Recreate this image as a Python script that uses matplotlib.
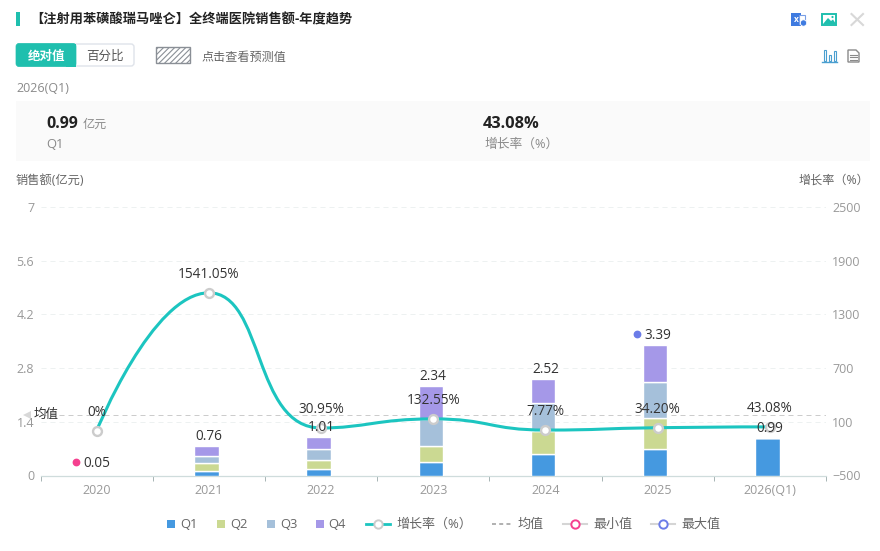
import numpy as np
import matplotlib
matplotlib.use("Agg")
import matplotlib.pyplot as plt
from matplotlib.patches import Rectangle, FancyBboxPatch, PathPatch, Polygon
from matplotlib.path import Path
from matplotlib.transforms import ScaledTranslation

plt.rcParams['font.family'] = ['Open Sans', 'Noto Sans CJK SC', 'DejaVu Sans']
plt.rcParams['hatch.linewidth'] = 0.8

categories = ['2020', '2021', '2022', '2023', '2024', '2025', '2026(Q1)']
q1 = [np.nan, 0.13, 0.18, 0.35, 0.55, 0.68, 0.99]
q2 = [np.nan, 0.19, 0.22, 0.43, 0.60, 0.82, np.nan]
q3 = [np.nan, 0.20, 0.29, 0.68, 0.75, 0.95, np.nan]
q4 = [np.nan, 0.24, 0.32, 0.88, 0.62, 0.94, np.nan]
totals = [0.05, 0.76, 1.01, 2.34, 2.52, 3.39, 0.99]
total_labels = ['0.05', '0.76', '1.01', '2.34', '2.52', '3.39', '0.99']
growth = [0, 1541.05, 30.95, 132.55, 7.77, 34.20, 43.08]
growth_labels = ['0%', '1541.05%', '30.95%', '132.55%', '7.77%', '34.20%', '43.08%']
left_ticks = [0, 1.4, 2.8, 4.2, 5.6, 7]
left_tick_labels = ['0', '1.4', '2.8', '4.2', '5.6', '7']
right_ticks = [-500, 100, 700, 1300, 1900, 2500]

C_Q = ['#4599e0', '#cbd992', '#a5c0da', '#a598e8']
TEAL = '#1cc5c0'
GREY = '#8f9398'
DARK = '#333333'
W, H = 880, 551
fs = 9.0
lab_fs = 9.8

fig = plt.figure(figsize=(W / 100, H / 100), dpi=100, facecolor='white')
L, R, T, B = 40.5, 826, 207, 475.5

# UI overlay in pixel units (underneath the chart)
ui = fig.add_axes([0, 0, 1, 1], zorder=0)
ui.set_xlim(0, W); ui.set_ylim(H, 0); ui.axis('off')

ax = fig.add_axes([L / W, 1 - B / H, (R - L) / W, (B - T) / H], zorder=1)
ax.patch.set_alpha(0)
ax2 = ax.twinx()
ax2.patch.set_alpha(0)

x = np.arange(len(categories))
ax.set_xlim(-0.5, len(categories) - 0.5)
ax.set_ylim(0, 7)
ax2.set_ylim(-500, 2500)

# stacked bars
band = (R - L) / len(categories)
bar_w = 24.3 / band
bar_x = x - 2.4 / band
bottom = np.zeros(len(categories))
for vals, c in zip([q1, q2, q3, q4], C_Q):
    v = np.array(vals, dtype=float)
    ax.bar(bar_x, np.nan_to_num(v), width=bar_w, bottom=bottom, color=c,
           edgecolor='white', linewidth=1.0, zorder=3)
    bottom += np.nan_to_num(v)

# axes styling
for s in ['top', 'left', 'right']:
    ax.spines[s].set_visible(False)
    ax2.spines[s].set_visible(False)
ax.spines['bottom'].set_color('#cfdcdc')
ax.spines['bottom'].set_linewidth(0.9)
ax2.spines['bottom'].set_visible(False)
ax.set_yticks(left_ticks)
ax.set_yticklabels(left_tick_labels)
ax2.set_yticks(right_ticks)
ax.tick_params(axis='y', length=0, labelsize=fs, labelcolor='#999999', pad=4.5)
ax2.tick_params(axis='y', length=0, labelsize=fs, labelcolor='#999999', pad=4.5)
ax.set_xticks(np.arange(len(categories) + 1) - 0.5)
ax.set_xticklabels([])
ax.set_xticks(x, minor=True)
ax.set_xticklabels(categories, minor=True)
ax.tick_params(axis='x', which='major', length=3.6, color='#a9b6b6', width=0.72)
ax.tick_params(axis='x', which='minor', length=0, labelsize=fs, labelcolor='#999999', pad=6)
ax.grid(axis='y', linestyle=(0, (5, 4)), color='#edf1f1', linewidth=0.72, zorder=0)
ax.set_axisbelow(True)

# mean line
mean_v = float(np.mean(totals))
ax.axhline(mean_v, color='#cccccc', linestyle=(0, (5, 4)), linewidth=0.72, zorder=2)
ui.add_patch(Polygon([[23, 415], [31, 411], [31, 419]], closed=True, color='#d8d8d8', lw=0))
ax.annotate('均值', (0, mean_v), xycoords=('axes fraction', 'data'), xytext=(-6.5 * .72, 0),
            textcoords='offset points', fontsize=fs, color=DARK, ha='left', va='center', zorder=9)

# smooth growth line, same construction as a smoothed category line
sy = (B - T) / 3000.0
pts = np.column_stack([x * band, np.array(growth) * sy])
smooth = 0.5
verts = [tuple(pts[0])]
codes = [Path.MOVETO]
cp0 = pts[0].copy()
for i in range(1, len(pts)):
    p, prev = pts[i], pts[i - 1]
    if i < len(pts) - 1:
        nxt = pts[i + 1]
        v = nxt - prev
        d0 = np.hypot(*(p - prev)); d1 = np.hypot(*(nxt - p))
        r = d1 / (d0 + d1)
        cp1 = p - v * smooth * (1 - r)
        cp1 = np.minimum(cp1, np.maximum(prev, p))
        cp1 = np.maximum(cp1, np.minimum(prev, p))
        nv = p - cp1
        nc = p + nv * d1 / d0
        nc = np.minimum(nc, np.maximum(nxt, p))
        nc = np.maximum(nc, np.minimum(nxt, p))
        nv = nc - p
        cp1 = p - nv * d0 / d1
    else:
        cp1 = p.copy()
        nc = p.copy()
    verts += [tuple(cp0), tuple(cp1), tuple(p)]
    codes += [Path.CURVE4] * 3
    cp0 = nc
data_verts = [(a / band, b / sy) for a, b in verts]
ax2.add_patch(PathPatch(Path(data_verts, codes), fill=False, edgecolor=TEAL, linewidth=2.2,
                        capstyle='round', zorder=4))
ax2.plot(x, growth, linestyle='none', marker='o', markersize=6.4, markerfacecolor='white',
         markeredgecolor='#cccccc', markeredgewidth=1.7, zorder=5)

# value labels
def lab(a, xx, yy, s, dy, dx=0):
    a.annotate(s, (xx, yy), xytext=(dx * .72, dy * .72), textcoords='offset points',
               ha='center', va='center_baseline', fontsize=lab_fs, color=DARK, zorder=10)

for i in range(len(categories)):
    lab(ax2, i, growth[i], growth_labels[i], 20.5)
for i in range(1, len(categories)):
    lab(ax2, i, -500 + totals[i] * 3000 / 7, total_labels[i], 11.5)
lab(ax2, 0, -500 + totals[0] * 3000 / 7, total_labels[0], 12)
for i, c in [(0, '#f5408f'), (5, '#6b7ce8')]:
    ax2.plot([i], [-500 + totals[i] * 3000 / 7], ls='none', marker='o', ms=4.6, mfc=c, mec=c,
             transform=ax2.transData + ScaledTranslation(-21 / 100, 11.5 / 100, fig.dpi_scale_trans), zorder=6)

# ---- header UI ----
def t(xx, yy, s, c=GREY, size=fs, w='normal', ha='left'):
    ui.text(xx, yy, s, color=c, fontsize=size, fontweight=w, ha=ha, va='center')

ui.add_patch(Rectangle((16, 12), 4, 14, color='#1fbfae', lw=0))
t(30, 20, '【注射用苯磺酸瑞马唑仑】全终端医院销售额-年度趋势', c='#222222', size=9.5, w='bold')

ui.add_patch(FancyBboxPatch((17, 44), 117, 22, boxstyle='round,pad=0,rounding_size=3',
                            fc='white', ec='#dfe3ea', lw=1))
ui.add_patch(FancyBboxPatch((16, 43.5), 60, 23, boxstyle='round,pad=0,rounding_size=3',
                            fc='#1fbfae', ec='#1fbfae', lw=0.5))
ui.add_patch(Rectangle((66, 43.5), 10, 23, color='#1fbfae', lw=0))
t(46, 56, '绝对值', c='white', w='bold', ha='center')
t(105, 56, '百分比', c='#555555', ha='center', w='medium')
ui.add_patch(Rectangle((156, 47), 34, 16, fc='white', ec='#8a8f96', lw=1, hatch='//////'))
t(201, 57, '点击查看预测值', c='#666666', size=8.7)
t(16, 88.5, '2026(Q1)', c='#8a8a8a', size=9)

ui.add_patch(Rectangle((16, 101), 854, 60, color='#fafafa', lw=0))
t(46, 123.5, '0.99', c='#222222', size=11.5, w='bold')
t(83, 124.5, '亿元', c='#8a8a8a', size=8.7)
t(46, 144.5, 'Q1', c='#8a8a8a', size=9.4)
t(483, 123.5, '43.08%', c='#222222', size=11.8, w='bold')
t(484, 144.5, '增长率（%）', c='#8a8a8a', size=9.2)
t(16, 180, '销售额(亿元)', c='#666666', size=8.8)
t(799, 180, '增长率（%）', c='#666666', size=8.7)

# icons
ui.add_patch(Rectangle((791, 13), 10, 13, color='#3f7be0', lw=0))
ui.add_patch(Rectangle((799, 15), 6, 9, fc='white', ec='#7a9fe6', lw=0.8))
ui.add_patch(plt.Circle((803.5, 23), 3.2, fc='#3f7be0', ec='white', lw=0.6))
ui.text(796, 19.5, 'x', color='white', fontsize=6, fontweight='bold', ha='center', va='center')
ui.add_patch(Rectangle((822, 14), 14, 11, fc='white', ec='#1fbfae', lw=1.4))
ui.add_patch(Polygon([[823, 24], [828, 18], [831, 21], [833, 19.5], [836, 24]], closed=True, color='#1fbfae', lw=0))
ui.add_patch(plt.Circle((832.5, 17), 1.1, color='#1fbfae', lw=0))
ui.plot([851.5, 863], [14, 25], color='#d8d8d8', lw=1.5)
ui.plot([851.5, 863], [25, 14], color='#d8d8d8', lw=1.5)
for xx, yy, hh in [(823.5, 49.5, 11), (828.5, 55, 6), (833.5, 50.5, 10)]:
    ui.add_patch(Rectangle((xx, yy), 2.6, hh, fc='white', ec='#4b9fd0', lw=0.8))
ui.plot([822, 836.5], [62, 62], color='#4b9fd0', lw=1)
ui.add_patch(Polygon([[848, 50], [856, 50], [859, 53], [859, 62], [848, 62]], closed=True,
                     fc='white', ec='#8a8a8a', lw=1))
for yy in [54.5, 57, 59.5]:
    ui.plot([850, 857], [yy, yy], color='#8a8a8a', lw=0.8)

# legend
leg_c = '#666666'
series_names = ['Q1', 'Q2', 'Q3', 'Q4']
for name, c, xx in zip(series_names, C_Q, [167, 217, 267, 315.5]):
    ui.add_patch(Rectangle((xx, 520), 8, 8, color=c, lw=0))
    t(xx + 13, 524.5, name, c=leg_c, size=9.4)
ui.plot([366, 390], [524, 524], color=TEAL, lw=2)
ui.plot([378], [524], marker='o', ms=6, mfc='white', mec='#cccccc', mew=1.4)
t(396, 524.5, '增长率（%）', c=leg_c, size=9.4)
ui.plot([492, 512], [524, 524], color='#aaaaaa', lw=1.3, ls=(0, (2.2, 1.8)))
t(518, 524.5, '均值', c=leg_c, size=9.4)
ui.plot([563, 587], [524, 524], color='#d5d5d5', lw=1.5)
ui.plot([575], [524], marker='o', ms=6, mfc='white', mec='#f5408f', mew=1.4)
t(593, 524.5, '最小值', c=leg_c, size=9.4)
ui.plot([651, 675], [524, 524], color='#d5d5d5', lw=1.5)
ui.plot([663], [524], marker='o', ms=6, mfc='white', mec='#6b7ce8', mew=1.4)
t(681, 524.5, '最大值', c=leg_c, size=9.4)
ui.set_xlim(0, W); ui.set_ylim(H, 0)

fig.savefig('out.png', dpi=100, facecolor='white')
